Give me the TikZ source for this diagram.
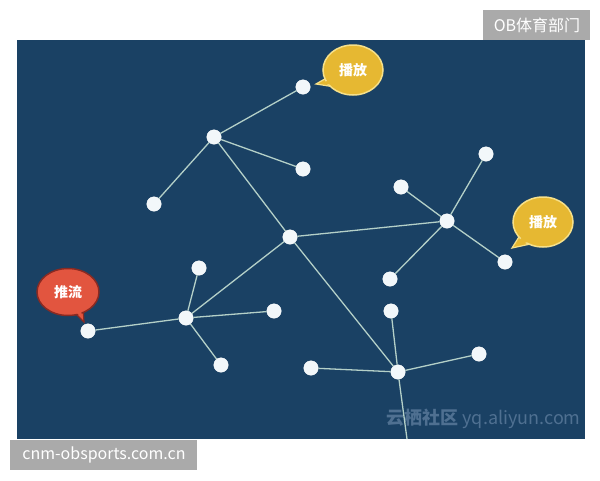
\documentclass[tikz,border=0pt]{standalone}
\usepackage{fontspec}
\setmainfont{Noto Sans CJK SC}
\usetikzlibrary{shapes.geometric}
\definecolor{panel}{HTML}{1A4164}
\definecolor{edgec}{HTML}{B4D0C8}
\definecolor{dotc}{HTML}{F2F7FA}
\definecolor{labelgray}{HTML}{AAAAAA}
\definecolor{yel}{HTML}{E6B832}
\definecolor{yelline}{HTML}{F6E08A}
\definecolor{redb}{HTML}{E2553F}
\definecolor{redline}{HTML}{8A2A22}
\definecolor{wmark}{HTML}{4F7091}
\tikzset{
  dot/.style={circle,fill=dotc,draw=white,line width=0.4pt,minimum size=14.5pt,inner sep=0pt},
  link/.style={draw=edgec,line width=1.3pt},
  bubtext/.style={text=white,font=\fontsize{14}{14}\selectfont\bfseries}
}
\begin{document}
\begin{tikzpicture}[x=1pt,y=-1pt]
\useasboundingbox (0,0) rectangle (600,480);
\fill[white] (0,0) rectangle (600,480);
\fill[panel] (17,40) rectangle (585,439);
% label boxes
\fill[labelgray] (483,10) rectangle (590,40);
\node[text=white,font=\fontsize{16}{16}\selectfont] (ob) at (537,25) {OB体育部门};
\fill[labelgray] (10,440) rectangle (197,470);
\node[text=white,font=\fontsize{16}{16}\selectfont] (cnm) at (104,455) {cnm-obsports.com.cn};
% watermark
\node[text=wmark,font=\fontsize{18}{18}\selectfont,anchor=west] (wm) at (383,419) {\textbf{云栖社区} yq.aliyun.com};
% nodes
\node[dot] (A) at (303,87) {};
\node[dot] (B) at (214,137) {};
\node[dot] (C) at (303,169) {};
\node[dot] (D) at (154,204) {};
\node[dot] (E) at (290,237) {};
\node[dot] (F) at (447,221) {};
\node[dot] (G) at (401,187) {};
\node[dot] (H) at (486,154) {};
\node[dot] (I) at (505,262) {};
\node[dot] (J) at (390,279) {};
\node[dot] (K) at (199,268) {};
\node[dot] (L) at (186,318) {};
\node[dot] (M) at (274,311) {};
\node[dot] (N) at (88,331) {};
\node[dot] (O) at (221,365) {};
\node[dot] (P) at (391,311) {};
\node[dot] (Q) at (398,372) {};
\node[dot] (R) at (311,368) {};
\node[dot] (S) at (479,354) {};
\coordinate (bot) at (407,439);
% edges
\foreach \a/\b in {A/B,B/C,B/D,B/E,E/F,F/G,F/H,F/I,F/J,E/L,L/K,L/M,L/N,L/O,E/Q,Q/P,Q/R,Q/S}
  \draw[link] (\a) -- (\b);
\draw[link] (Q) -- (bot);
% bubble top
\fill[yel,draw=yelline,line width=1.2pt] (330,76) -- (316,84) -- (341,88) -- cycle;
\node[ellipse,fill=yel,draw=yelline,line width=1.5pt,minimum width=60pt,minimum height=50pt,inner sep=0pt] (b1) at (353,70) {};
\fill[yel] (331,79) -- (322,83.5) -- (339,85.5) -- cycle;
\node[bubtext] (t1) at (353,70) {播放};
% bubble right
\fill[yel,draw=yelline,line width=1.2pt] (522,232) -- (512,248) -- (535,243) -- cycle;
\node[ellipse,fill=yel,draw=yelline,line width=1.5pt,minimum width=60pt,minimum height=50pt,inner sep=0pt] (b2) at (543,222) {};
\fill[yel] (523,236) -- (516,245) -- (532,241) -- cycle;
\node[bubtext] (t2) at (543,222) {播放};
% bubble red
\fill[redb,draw=redline,line width=1.2pt] (72,310) -- (84,322) -- (83,306) -- cycle;
\node[ellipse,fill=redb,draw=redline,line width=1.5pt,minimum width=62pt,minimum height=47pt,inner sep=0pt] (b3) at (68,292) {};
\fill[redb] (74,310) -- (82,318) -- (81,308) -- cycle;
\node[bubtext] (t3) at (68,292) {推流};
\end{tikzpicture}
\end{document}
